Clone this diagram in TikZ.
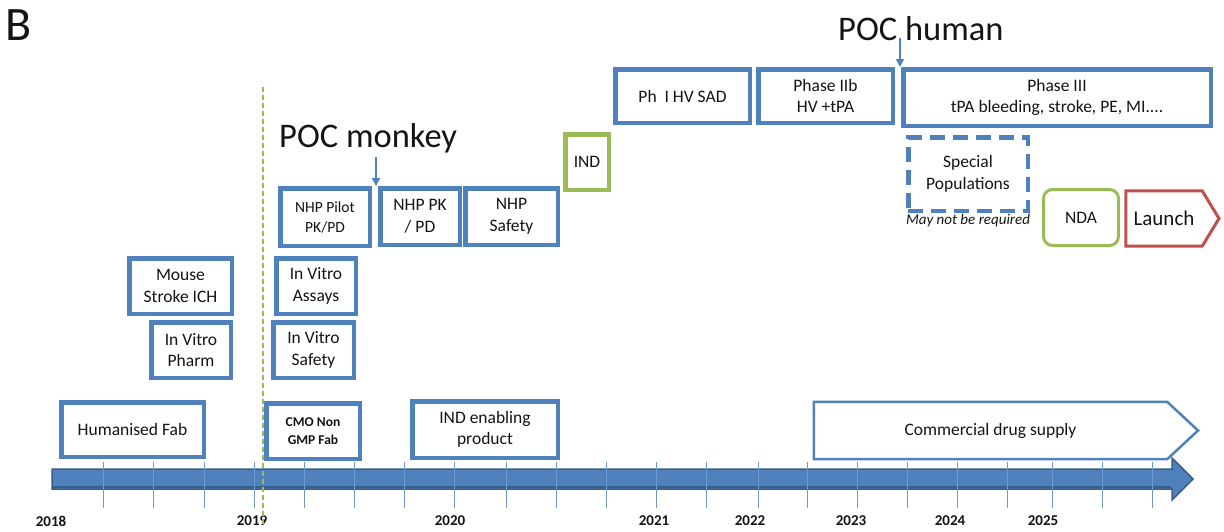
\documentclass[tikz,border=0pt]{standalone}
\usepackage{fontspec}
\setmainfont{Carlito}
\usetikzlibrary{arrows.meta}
\definecolor{oblue}{HTML}{4F81BD}
\definecolor{dblue}{HTML}{385D8A}
\definecolor{tblue}{HTML}{6F9AD0}
\definecolor{ogreen}{HTML}{9BBB59}
\definecolor{ored}{HTML}{C0504D}
\definecolor{txt}{HTML}{141414}
\begin{document}
\begin{tikzpicture}[x=1pt,y=-1pt,
  box/.style={draw=oblue, line width=4.5pt, fill=white, inner sep=0pt, align=center, text=txt,
    font=\fontsize{17.5}{21.5}\selectfont},
  gbox/.style={box, draw=ogreen},
  plain/.style={inner sep=0pt, align=center, text=txt, font=\fontsize{17.5}{21.5}\selectfont},
  year/.style={inner sep=0pt, text=txt, font=\fontsize{15}{18}\selectfont\bfseries},
  big/.style={inner sep=0pt, text=txt, anchor=base west},
  tick/.style={draw=tblue, line width=1pt},
  poc/.style={draw=oblue, line width=1.5pt, -{Triangle[width=8pt,length=8pt]}}
]
\useasboundingbox (0,0) rectangle (1224,531);

% panel letter
\node[big, font=\fontsize{48}{50}\selectfont] (B) at (5,40) {B};

% timeline bar
\draw[fill=oblue, draw=dblue, line width=1.5pt, line join=miter]
  (52,469) -- (1172,469) -- (1172,458) -- (1193,479) -- (1172,500) -- (1172,489) -- (52,489) -- cycle;
\draw[dblue, line width=2pt] (53,487) -- (1171,487);
\foreach \x in {103,153,204,254,304,354,404,454,506,556,606,656,706,758,807,857,907,957,1007,1052,1102,1152}
  \draw[tick] (\x,462) -- (\x,508);

% years
\node[year] (y2018) at (51,521) {2018};
\node[year] (y2019) at (252,521) {2019};
\node[year] (y2020) at (450,521) {2020};
\node[year] (y2021) at (654,521) {2021};
\node[year] (y2022) at (750,521) {2022};
\node[year] (y2023) at (851,521) {2023};
\node[year] (y2024) at (950,521) {2024};
\node[year] (y2025) at (1043,521) {2025};

% green dashed divider
\coordinate (gtop) at (263,87);
\coordinate (gbot) at (263,525);
\draw[ogreen, line width=1.4pt, dash pattern=on 5pt off 3pt] (gtop) -- (gbot);

% bottom row
\node[box, minimum width=142.5pt, minimum height=54.5pt] (hfab) at (132.5,429.5) {Humanised Fab};
\node[box, minimum width=93.5pt, minimum height=55.5pt, font=\fontsize{13.5}{17.3}\selectfont\bfseries] (cmo) at (313,431) {CMO Non\\GMP Fab};
\node[box, minimum width=145.5pt, minimum height=56.5pt] (indp) at (485,429.5) {IND enabling\\product};
\node[plain, minimum width=353pt, minimum height=57pt] (cds) at (990.5,430.5) {Commercial drug supply};
\draw[oblue, line width=2.5pt, line join=miter]
  (cds.north west) -- (cds.north east) -- (1198,430.5) -- (cds.south east) -- (cds.south west) -- cycle;

% lower stacks
\node[box, minimum width=102.5pt, minimum height=55.5pt] (mouse) at (180.5,286) {Mouse\\Stroke ICH};
\node[box, minimum width=79.5pt, minimum height=55.5pt] (ivpharm) at (191,350) {In Vitro\\Pharm};
\node[box, minimum width=79.5pt, minimum height=55.5pt] (ivassay) at (316,286) {In Vitro\\Assays};
\node[box, minimum width=80.5pt, minimum height=55.5pt] (ivsafe) at (313.5,350) {In Vitro\\Safety};

% NHP row
\node[box, minimum width=89.5pt, minimum height=57.5pt, font=\fontsize{15.5}{20}\selectfont] (nhppilot) at (325,217) {NHP Pilot\\PK/PD};
\node[box, minimum width=79.5pt, minimum height=56.5pt] (nhppk) at (420,216.5) {NHP PK\\/ PD};
\node[box, minimum width=92.5pt, minimum height=56.5pt] (nhpsafe) at (511.5,216.5) {NHP\\Safety};
\node[gbox, minimum width=43.5pt, minimum height=55.5pt] (ind) at (587,162) {IND};

% POC monkey
\node[big, font=\fontsize{34.5}{37}\selectfont] (pocm) at (279,147) {POC monkey};
\coordinate (pocmtip) at (376,186);
\draw[poc] (pocm.south -| pocmtip) ++(0,4) -- (pocmtip);

% clinical row
\node[box, minimum width=134.5pt, minimum height=53.5pt] (ph1) at (682.5,96) {Ph\ \ I HV SAD};
\node[box, minimum width=134.5pt, minimum height=53.5pt] (ph2) at (825.5,96) {Phase IIb\\HV +tPA};
\node[box, minimum width=307.5pt, minimum height=56.5pt] (ph3) at (1057,97.5) {Phase III\\tPA bleeding, stroke, PE, MI....};

% POC human
\node[big, font=\fontsize{34.5}{37}\selectfont] (poch) at (838,40) {POC human};
\coordinate (pochtip) at (900,67);
\draw[poc] (poch.base -| pochtip) ++(0,-2) -- (pochtip);

% special populations
\node[box, dash pattern=on 15pt off 8pt, minimum width=119.5pt, minimum height=73.5pt] (special) at (968,174) {Special\\Populations};
\node[plain, font=\fontsize{15}{18}\selectfont\itshape] (mnbr) at (968,220) {May not be required};

% NDA and Launch
\node[gbox, line width=3pt, rounded corners=9pt, minimum width=75pt, minimum height=56pt] (nda) at (1081,217.5) {NDA};
\node[plain, minimum width=76pt, minimum height=55pt, font=\fontsize{21}{24}\selectfont] (launch) at (1164,218.5) {Launch};
\draw[ored, line width=3pt, line join=miter]
  (launch.north west) -- (launch.north east) -- (1219,218.5) -- (launch.south east) -- (launch.south west) -- cycle;
\end{tikzpicture}
\end{document}
